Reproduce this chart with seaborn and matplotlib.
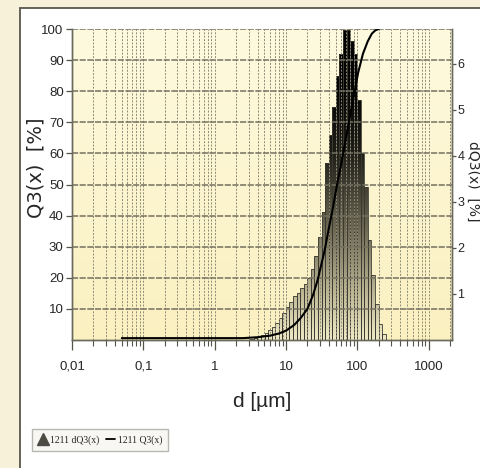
import numpy as np
import matplotlib
matplotlib.use("Agg")
import matplotlib.pyplot as plt
import seaborn as sns
from matplotlib.colors import LinearSegmentedColormap
from matplotlib.lines import Line2D
from matplotlib.patches import Rectangle
from matplotlib.ticker import LogLocator, NullFormatter

# class edges of the density histogram (um)
bin_edges = [3.16, 3.55, 3.98, 4.47, 5.01, 5.62, 6.31, 7.08, 7.94, 8.91,
             10.0, 11.2, 12.6, 14.1, 15.8, 17.8, 20.0, 22.4, 25.1, 28.2,
             31.6, 35.5, 39.8, 44.7, 50.1, 56.2, 63.1, 70.8, 79.4, 89.1,
             100, 112, 126, 141, 158, 178, 200, 224, 251]
# dQ3(x) per class [%]  (right axis)
dq3 = [0.02, 0.04, 0.07, 0.11, 0.16, 0.22, 0.29, 0.37, 0.47, 0.58,
       0.71, 0.83, 0.95, 1.03, 1.12, 1.22, 1.35, 1.55, 1.82, 2.23,
       2.77, 3.85, 4.46, 5.06, 5.74, 6.21, 6.73, 6.73, 6.48, 6.21,
       5.20, 4.05, 3.31, 2.16, 1.42, 0.78, 0.34, 0.14]

# cumulative curve Q3(x) [%]  (left axis)
q3_d = [0.05, 0.5, 2.5, 4, 6, 8, 10, 13, 16, 20, 24, 28, 35, 40, 46, 52,
        60, 67, 75, 82, 92, 103, 120, 140, 160, 180, 200]
q3_val = [0.6, 0.6, 0.6, 0.9, 1.4, 2.1, 3.0, 4.8, 7.0, 10, 14.5, 19.5, 29, 36, 43, 50,
          57, 63, 69, 74, 80, 86, 92, 96, 98.5, 99.6, 100]

x_ticks = [0.01, 0.1, 1, 10, 100, 1000]
x_labels = ["0,01", "0,1", "1", "10", "100", "1000"]
y_ticks = [10, 20, 30, 40, 50, 60, 70, 80, 90, 100]
y2_ticks = [1, 2, 3, 4, 5, 6]

sns.set_style("white")
narrow = ["Liberation Sans", "DejaVu Sans"]
plt.rcParams["font.family"] = ["DejaVu Sans"]

W, H = 481, 468
fig = plt.figure(figsize=(W / 100, H / 100), dpi=100, facecolor="#f6f1d8")

# white inner panel
fig.patches.append(Rectangle((20 / W, -0.01), 1.0, 1 - 8 / H + 0.01, transform=fig.transFigure,
                             facecolor="white", edgecolor="#58574c", lw=1.3, zorder=-10))

ax = fig.add_axes([72 / W, 1 - 340 / H, 380 / W, 311 / H])
ax2 = ax.twinx()
ax.set_zorder(ax2.get_zorder() + 1)
ax.patch.set_visible(False)
ax.set_xscale("log")
ax2.set_xscale("log")

# plot background (light yellow gradient)
bg_cmap = LinearSegmentedColormap.from_list("bg", ["#faf0c0", "#fefadf"])
ax2.imshow(np.linspace(0, 1, 100).reshape(-1, 1), cmap=bg_cmap, origin="lower",
           extent=[0, 1, 0, 1], transform=ax2.transAxes, aspect="auto", zorder=0)

# histogram bars with vertical black gradient
edges = np.array(bin_edges)
vals = np.array(dq3)
poly = ax2.fill_between(edges, np.append(vals, vals[-1]), step="post",
                        facecolor="none", lw=0)
bar_cmap = LinearSegmentedColormap.from_list(
    "bar", [(0, "#efe9c6"), (0.15, "#bdb796"), (0.35, "#6f6b56"),
            (0.6, "#1e1d17"), (0.8, "#050505"), (1, "#000000")])
im = ax2.imshow(np.linspace(0, 1, 256).reshape(-1, 1), cmap=bar_cmap, origin="lower",
                extent=[0, 1, 0, 1], transform=ax2.transAxes, aspect="auto", zorder=1)
im.set_clip_path(poly.get_paths()[0], poly.get_transform())
ax2.bar(edges[:-1], vals, width=np.diff(edges), align="edge", fill=False,
        edgecolor="#3a3930", lw=0.6, zorder=2)

# cumulative line
sns.lineplot(x=q3_d, y=q3_val, ax=ax, color="black", lw=1.5,
             estimator=None, sort=False, zorder=5)

ax.set_xlim(0.01, 2130)
ax2.set_xlim(0.01, 2130)
ax.set_ylim(0, 100)
ax2.set_ylim(0, 6.75)

# ticks and grid
ax.set_xticks(x_ticks)
ax.set_xticklabels(x_labels, family=narrow, fontsize=9.5)
ax.xaxis.set_minor_locator(LogLocator(base=10, subs=np.arange(2, 10)))
ax.xaxis.set_minor_formatter(NullFormatter())
ax.set_yticks(y_ticks)
ax.set_yticklabels([str(v) for v in y_ticks], family=narrow, fontsize=9.5)
ax.grid(axis="y", which="major", color="#737060", lw=1.1, ls=(0, (4, 1)))
ax.grid(axis="x", which="both", color="#8e8a76", lw=0.7, ls=(0, (2, 1.5)))
ax2.set_yticks(y2_ticks)
ax2.set_yticklabels([str(v) for v in y2_ticks], family=narrow, fontsize=9)
ax2.grid(False)

ax.tick_params(axis="x", which="major", direction="out", length=7, width=0.9,
               color="#55544a", pad=8, bottom=True)
ax.tick_params(axis="x", which="minor", direction="out", length=4, width=0.8,
               color="#55544a", bottom=True)
ax.tick_params(axis="y", direction="out", length=4, width=0.9, color="#55544a",
               pad=2, left=True)
ax2.tick_params(axis="y", direction="out", length=3, width=0.9, color="#55544a",
                pad=1, right=True)
ax2.tick_params(axis="x", which="both", bottom=False, top=False, labelbottom=False)

for a in (ax, ax2):
    for side in ("left", "right", "bottom"):
        a.spines[side].set_color("#6a695c")
        a.spines[side].set_linewidth(1.0)
    a.spines["top"].set_visible(False)

ax.set_xlabel("d [µm]", family=narrow, fontsize=15, labelpad=14)
ax.set_ylabel("")
ax2.set_ylabel("")
fig.text(36 / W, 1 - 168 / H, "Q3(x)  [%]", rotation=90, ha="center",
         va="center", fontsize=14)
fig.text(473.5 / W, 1 - 181 / H, "dQ3(x)  [%]", rotation=270, ha="center",
         va="center", fontsize=10)

# legend
handles = [Line2D([], [], marker="^", color="#4d4c44", markersize=9, linestyle="none"),
           Line2D([], [], color="black", lw=1.3)]
fig.legend(handles, ["1211 dQ3(x)", "1211 Q3(x)"], ncol=2, loc="lower left",
           bbox_to_anchor=(27 / W, 1 - 456 / H), frameon=True, fancybox=False,
           edgecolor="#a8a8a0", facecolor="#f7f6f0", handlelength=0.9,
           handletextpad=0.3, columnspacing=0.7, borderpad=0.65,
           prop={"family": ["Liberation Serif"], "size": 7})

fig.savefig("out.png", dpi=100, facecolor=fig.get_facecolor())
